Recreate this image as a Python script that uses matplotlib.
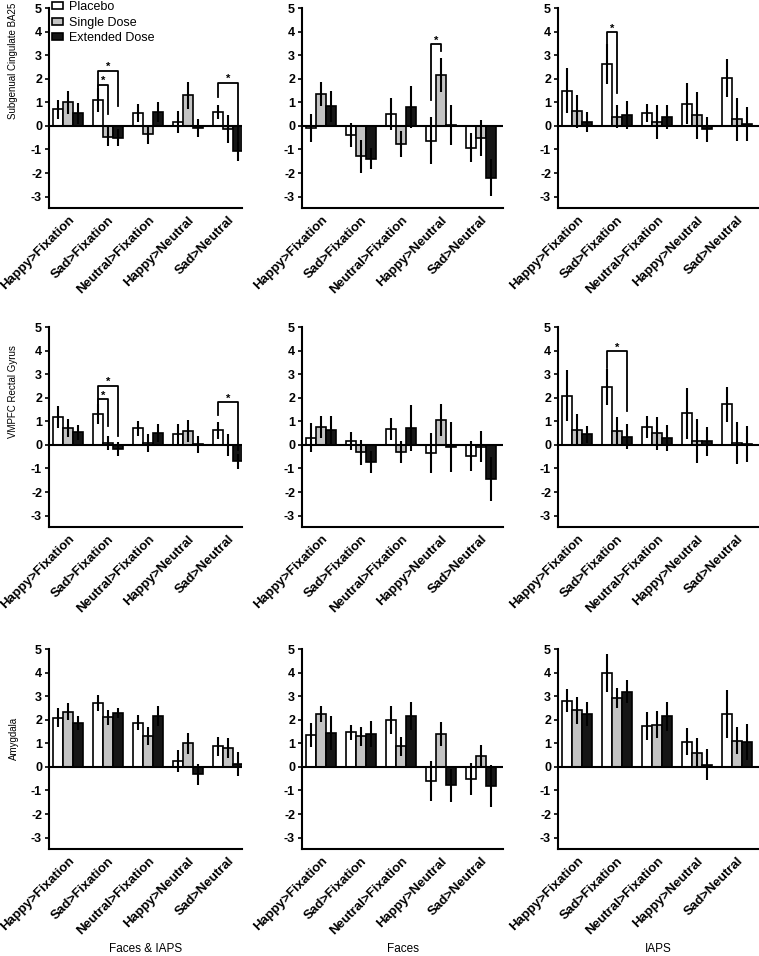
import matplotlib.pyplot as plt
import matplotlib.transforms as mtransforms
import numpy as np

plt.rcParams['font.family'] = ['Liberation Sans', 'DejaVu Sans']

contrasts = ['Happy>Fixation', 'Sad>Fixation', 'Neutral>Fixation', 'Happy>Neutral', 'Sad>Neutral']
conditions = ['Placebo', 'Single Dose', 'Extended Dose']
regions = ['Subgenual Cingulate BA25', 'VMPFC Rectal Gyrus', 'Amygdala']
stimuli = ['Faces & IAPS', 'Faces', 'IAPS']

# rows: placebo, single dose, extended dose
sg_both_mean = [[0.71, 1.10, 0.55, 0.15, 0.60], [1.00, -0.45, -0.35, 1.30, -0.12], [0.53, -0.50, 0.60, -0.08, -1.08]]
sg_both_err = [[0.41, 0.50, 0.38, 0.47, 0.30], [0.50, 0.40, 0.40, 0.58, 0.60], [0.45, 0.35, 0.43, 0.37, 0.40]]
sg_faces_mean = [[-0.10, -0.38, 0.52, -0.62, -0.92], [1.35, -1.28, -0.78, 2.15, -0.50], [0.83, -1.40, 0.80, 0.03, -2.20]]
sg_faces_err = [[0.60, 0.50, 0.68, 1.00, 0.60], [0.52, 0.70, 0.55, 0.72, 0.76], [0.65, 0.45, 0.88, 0.85, 0.78]]
sg_iaps_mean = [[1.50, 2.62, 0.55, 0.95, 2.05], [0.62, 0.40, 0.15, 0.45, 0.28], [0.18, 0.45, 0.38, -0.15, 0.08]]
sg_iaps_err = [[0.95, 0.85, 0.40, 0.88, 0.80], [0.69, 0.50, 0.72, 1.00, 0.92], [0.42, 0.60, 0.53, 0.55, 0.72]]

vm_both_mean = [[1.18, 1.32, 0.70, 0.48, 0.62], [0.72, 0.10, 0.07, 0.60, 0.00], [0.53, -0.18, 0.52, 0.02, -0.70]]
vm_both_err = [[0.48, 0.42, 0.30, 0.42, 0.35], [0.40, 0.30, 0.38, 0.47, 0.48], [0.30, 0.30, 0.38, 0.35, 0.32]]
vm_faces_mean = [[0.30, 0.15, 0.68, -0.35, -0.48], [0.77, -0.32, -0.30, 1.05, -0.08], [0.62, -0.72, 0.72, -0.10, -1.45]]
vm_faces_err = [[0.62, 0.38, 0.47, 0.85, 0.63], [0.48, 0.55, 0.46, 0.69, 0.66], [0.63, 0.47, 0.97, 1.06, 0.93]]
vm_iaps_mean = [[2.10, 2.45, 0.75, 1.35, 1.72], [0.65, 0.58, 0.50, 0.18, 0.08], [0.45, 0.35, 0.30, 0.15, 0.04]]
vm_iaps_err = [[1.07, 0.77, 0.47, 1.08, 0.75], [0.67, 0.62, 0.70, 0.93, 0.90], [0.37, 0.52, 0.55, 0.60, 0.78]]

am_both_mean = [[2.10, 2.72, 1.87, 0.25, 0.87], [2.35, 2.12, 1.33, 1.00, 0.80], [1.85, 2.30, 2.17, -0.32, 0.12]]
am_both_err = [[0.40, 0.35, 0.32, 0.45, 0.40], [0.35, 0.32, 0.38, 0.45, 0.41], [0.30, 0.22, 0.42, 0.44, 0.50]]
am_faces_mean = [[1.37, 1.47, 2.00, -0.60, -0.50], [2.27, 1.30, 0.87, 1.40, 0.45], [1.45, 1.40, 2.17, -0.77, -0.80]]
am_faces_err = [[0.51, 0.33, 0.58, 0.85, 0.68], [0.34, 0.41, 0.40, 0.50, 0.50], [0.71, 0.55, 0.60, 0.70, 0.90]]
am_iaps_mean = [[2.82, 4.00, 1.73, 1.07, 2.25], [2.40, 2.92, 1.80, 0.60, 1.12], [2.27, 3.20, 2.15, 0.10, 1.05]]
am_iaps_err = [[0.50, 0.80, 0.60, 0.57, 1.00], [0.56, 0.42, 0.57, 0.64, 0.56], [0.51, 0.48, 0.63, 0.67, 0.77]]

panels = [[(sg_both_mean, sg_both_err), (sg_faces_mean, sg_faces_err), (sg_iaps_mean, sg_iaps_err)],
          [(vm_both_mean, vm_both_err), (vm_faces_mean, vm_faces_err), (vm_iaps_mean, vm_iaps_err)],
          [(am_both_mean, am_both_err), (am_faces_mean, am_faces_err), (am_iaps_mean, am_iaps_err)]]

# significance brackets: (contrast, from bar, to bar, level, left leg end, right leg end)
brackets = {
    (0, 0): [(1, 0, 2, 2.35, 1.65, 0.85), (1, 0, 1, 1.75, 1.65, 0.50), (4, 0, 2, 1.84, 1.25, -0.67)],
    (0, 1): [(3, 0, 1, 3.47, 1.10, 3.20)],
    (0, 2): [(1, 0, 1, 3.98, 3.50, 1.38)],
    (1, 0): [(1, 0, 2, 2.52, 1.70, 0.37), (1, 0, 1, 1.95, 1.70, 0.79), (4, 0, 2, 1.81, 1.29, -0.20)],
    (1, 2): [(1, 0, 2, 4.00, 3.27, 1.43)],
}

bar_colors = ['white', '#c3c3c3', '#161616']
W, H = 759, 956
col_left = [49, 302, 558]
col_xmax = [4.35, 4.55, 4.55]
row_top = [8.3, 327.3, 649.3]
ax_h = 200
px_per_group = 40
bw = 0.25
offsets = [-bw, 0, bw]

fig = plt.figure(figsize=(W / 100, H / 100), dpi=100)
x = np.arange(len(contrasts))

for r in range(3):
    for c in range(3):
        xmin, xmax = -0.475, col_xmax[c]
        w = (xmax - xmin) * px_per_group
        ax = fig.add_axes([col_left[c] / W, 1 - (row_top[r] + ax_h) / H, w / W, ax_h / H])
        means, errs = panels[r][c]
        for k in range(3):
            ax.bar(x + offsets[k], means[k], width=bw, color=bar_colors[k], edgecolor='black',
                   linewidth=1.2, label=conditions[k], zorder=2)
            ax.errorbar(x + offsets[k], means[k], yerr=errs[k], fmt='none', ecolor='black',
                        elinewidth=1.5, capsize=0, zorder=3)
        ax.axhline(0, color='black', linewidth=1.5, zorder=4)

        for (g, i0, i1, lvl, lb, rb) in brackets.get((r, c), []):
            xl, xr = g + offsets[i0], g + offsets[i1]
            ax.plot([xl, xl, xr, xr], [lb, lvl, lvl, rb], color='black', linewidth=1.3,
                    clip_on=False, zorder=5)
            ax.text((xl + xr) / 2, lvl + 0.02, '*', ha='center', va='baseline', fontsize=8,
                    fontweight='bold', clip_on=False)

        ax.set_xlim(xmin, xmax)
        ax.set_ylim(-3.5, 5)
        ax.set_yticks(range(-3, 6))
        ax.set_yticklabels([str(v) for v in range(-3, 6)], fontsize=9, fontweight='bold')
        ax.set_xticks(x)
        ax.set_xticklabels(contrasts, rotation=45, ha='right', rotation_mode='anchor',
                           fontsize=9.5, fontweight='bold')
        ax.tick_params(axis='x', length=0, pad=4)
        ax.tick_params(axis='y', length=3, width=1.2, pad=2)
        for s in ['top', 'right']:
            ax.spines[s].set_visible(False)
        for s in ['left', 'bottom']:
            ax.spines[s].set_linewidth(1.5)

        if c == 0:
            trans = mtransforms.blended_transform_factory(ax.transAxes, ax.transData)
            ax.text(-0.184, 0.3, regions[r], transform=trans, rotation=90, rotation_mode='anchor',
                    ha='left', va='center', fontsize=7)
        if r == 2:
            ax.text(0.5, -0.5, stimuli[c], transform=ax.transAxes, ha='center', va='center',
                    fontsize=8.5)
        if r == 0 and c == 0:
            ax.legend(loc='upper left', bbox_to_anchor=(0.0, 1.05), frameon=False, fontsize=9,
                      handlelength=0.9, handleheight=0.5, handletextpad=0.5, labelspacing=0.3,
                      borderpad=0, borderaxespad=0.2)

fig.savefig('out.png', dpi=100)
